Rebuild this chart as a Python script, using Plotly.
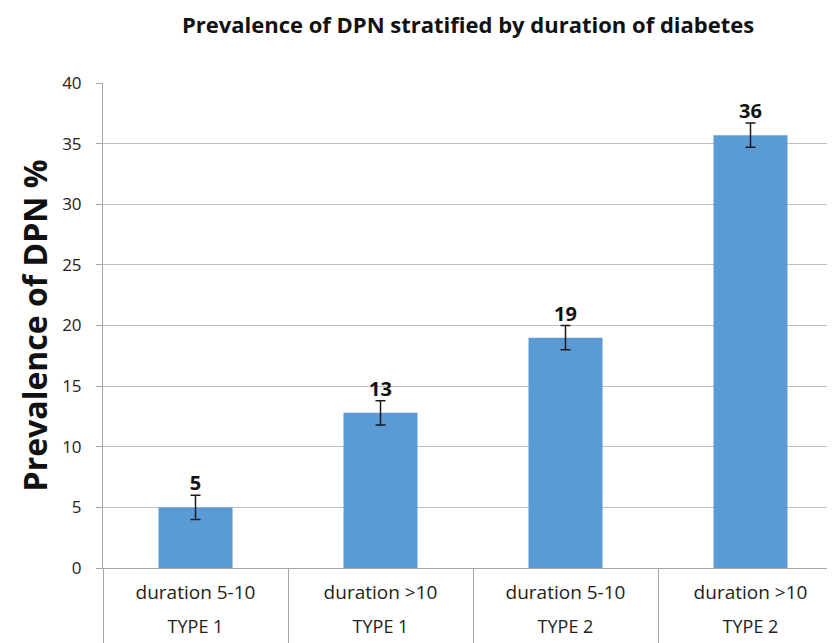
import plotly.graph_objects as go

categories = ["duration 5-10", "duration >10", "duration 5-10", "duration >10"]
types = ["TYPE 1", "TYPE 1", "TYPE 2", "TYPE 2"]
values = [5.0, 12.8, 19.0, 35.7]
errors = [1.0, 1.0, 1.0, 1.0]
labels = ["5", "13", "19", "36"]
y_ticks = [0, 5, 10, 15, 20, 25, 30, 35, 40]

xkeys = [f"{t}|{c}" for t, c in zip(types, categories)]

fig = go.Figure()
fig.add_trace(go.Bar(
    x=xkeys, y=values,
    marker=dict(color="#5B9BD5", line=dict(width=0)),
    error_y=dict(type="data", array=errors, visible=True,
                 color="#1a1a1a", thickness=1.5, width=5),
    showlegend=False,
))
fig.add_trace(go.Scatter(
    x=xkeys, y=[v + e for v, e in zip(values, errors)],
    xaxis="x2",
    mode="text", text=labels, textposition="top center",
    textfont=dict(family="Open Sans", size=20, color="#111111", weight="bold"),
    showlegend=False, hoverinfo="skip",
))

fig.update_layout(
    width=835, height=643,
    margin=dict(l=95, r=0, t=75, b=83),
    paper_bgcolor="white", plot_bgcolor="white",
    bargap=0.6,
    font=dict(family="Open Sans", color="#222222"),
    title=dict(
        text="<b>Prevalence of DPN stratified by duration of diabetes</b>",
        x=0.551, xanchor="center", y=1 - 17 / 643, yanchor="middle",
        font=dict(family="Open Sans", size=22, color="#111111"),
    ),
    xaxis=dict(
        type="category", range=[-0.5, 3.5],
        tickvals=xkeys, ticktext=categories,
        tickson="boundaries", ticks="outside", ticklen=75,
        tickcolor="#A6A6A6", tickwidth=1,
        ticklabelstandoff=7,
        showgrid=False,
        showline=True, linecolor="#A6A6A6", linewidth=1,
        tickfont=dict(family="Open Sans", size=19, color="#222222"),
    ),
    xaxis2=dict(
        type="category", range=[-0.5, 3.5],
        overlaying="x", side="bottom", anchor="y",
        tickvals=xkeys, ticktext=types,
        ticks="", showgrid=False, showline=False, zeroline=False,
        ticklabelstandoff=46,
        tickfont=dict(family="Open Sans", size=18, color="#222222"),
    ),
    yaxis=dict(
        range=[0, 40], tickvals=y_ticks,
        showgrid=True, gridcolor="#BFBFBF", gridwidth=1,
        showline=True, linecolor="#A6A6A6", linewidth=1,
        ticks="outside", ticklen=6, tickcolor="#A6A6A6",
        ticklabelstandoff=11,
        tickfont=dict(family="Open Sans", size=17, color="#222222"),
        zeroline=False,
        title=dict(text="<b>Prevalence of DPN %</b>", standoff=4,
                   font=dict(family="Open Sans", size=32, color="#111111")),
    ),
)

fig.write_html("out.html")
